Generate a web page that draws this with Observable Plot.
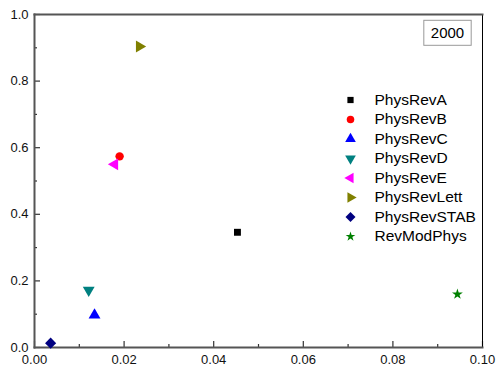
<!DOCTYPE html>
<html>
<head>
<meta charset="utf-8">
<script src="https://cdn.jsdelivr.net/npm/d3@7"></script>
<script src="https://cdn.jsdelivr.net/npm/@observablehq/plot@0.6"></script>
<style>
  html, body { margin: 0; padding: 0; background: #fff; }
  #chart { width: 496px; height: 367px; }
  svg { font-family: Arial, "Liberation Sans", sans-serif; }
</style>
</head>
<body>
<div id="chart"></div>
<script>
const categories = ["PhysRevA", "PhysRevB", "PhysRevC", "PhysRevD", "PhysRevE", "PhysRevLett", "PhysRevSTAB", "RevModPhys"];
const xValues = [0.0453, 0.0190, 0.0134, 0.0121, 0.0179, 0.0234, 0.0036, 0.0944];
const yValues = [0.346, 0.574, 0.097, 0.172, 0.550, 0.904, 0.013, 0.160];
const colors = ["#000000", "#ff0000", "#0000ff", "#008080", "#ff00ff", "#808000", "#000080", "#008000"];
const shapes = ["square", "circle", "triangle", "triangleDown", "triangleLeft", "triangleRight", "diamond", "star"];
const xTicks = [0, 0.02, 0.04, 0.06, 0.08, 0.10];
const xMinorTicks = [0.01, 0.03, 0.05, 0.07, 0.09];
const yTicks = [0, 0.2, 0.4, 0.6, 0.8, 1.0];
const yMinorTicks = [0.1, 0.3, 0.5, 0.7, 0.9];
const yearLabel = "2000";

function rotTriangle(angleDeg) {
  const a = angleDeg * Math.PI / 180, c = Math.cos(a), s = Math.sin(a);
  return {
    draw(ctx, size) {
      const y = -Math.sqrt(size / (Math.sqrt(3) * 3));
      const pts = [[0, y * 2], [-Math.sqrt(3) * y, -y], [Math.sqrt(3) * y, -y]];
      pts.forEach(([px, py], i) => {
        const rx = px * c - py * s, ry = px * s + py * c;
        if (i === 0) ctx.moveTo(rx, ry); else ctx.lineTo(rx, ry);
      });
      ctx.closePath();
    }
  };
}
const symbolMap = {
  square: {sym: "square", r: 3.9},
  circle: {sym: "circle", r: 4.2},
  triangle: {sym: "triangle", r: 4.4},
  triangleDown: {sym: rotTriangle(180), r: 4.4},
  triangleLeft: {sym: rotTriangle(-90), r: 4.4},
  triangleRight: {sym: rotTriangle(90), r: 4.4},
  diamond: {sym: "diamond2", r: 5.0},
  star: {sym: "star", r: 3.4}
};

const W = 496, H = 367;
const mL = 34, mR = 14, mT = 14, mB = 20;
const plotW = W - mL - mR, plotH = H - mT - mB;

const marks = [];
// inward ticks
marks.push(Plot.tickX(xTicks, {x: d => d, insetTop: plotH - 6, stroke: "#333", strokeWidth: 1.2}));
marks.push(Plot.tickX(xMinorTicks, {x: d => d, insetTop: plotH - 3, stroke: "#333", strokeWidth: 1.2}));
marks.push(Plot.tickY(yTicks, {y: d => d, insetRight: plotW - 6, stroke: "#333", strokeWidth: 1.2}));
marks.push(Plot.tickY(yMinorTicks, {y: d => d, insetRight: plotW - 3, stroke: "#333", strokeWidth: 1.2}));
// frame
marks.push(Plot.frame({anchor: "right", stroke: "#000", strokeWidth: 1}));
marks.push(Plot.frame({anchor: "left", stroke: "#555", strokeWidth: 2}));
marks.push(Plot.frame({anchor: "bottom", stroke: "#555", strokeWidth: 2}));
marks.push(Plot.frame({anchor: "top", stroke: "#555", strokeWidth: 2}));
// axes labels
marks.push(Plot.axisX(xTicks, {tickSize: 0, tickPadding: 7, tickFormat: d3.format(".2f"), fontSize: 13, fill: "#111", label: null}));
marks.push(Plot.axisY(yTicks, {tickSize: 0, tickPadding: 6, tickFormat: d3.format(".1f"), fontSize: 13, fill: "#111", label: null}));

categories.forEach((cat, i) => {
  const {sym, r} = symbolMap[shapes[i]];
  marks.push(Plot.dot([{x: xValues[i], y: yValues[i]}], {x: "x", y: "y", symbol: sym, r, fill: colors[i], stroke: "none"}));
  // legend entry
  marks.push(Plot.dot([cat], {frameAnchor: "top-left", dx: 316, dy: 85.5 + i * 19.5, symbol: sym, r: r * 0.9, fill: colors[i], stroke: "none"}));
  marks.push(Plot.text([cat], {text: d => d, frameAnchor: "top-left", dx: 340, dy: 85.5 + i * 19.5, textAnchor: "start", lineAnchor: "middle", fontSize: 15.5, fill: "#000"}));
});
marks.push(Plot.text([yearLabel], {text: d => d, frameAnchor: "top-right", dx: -35, dy: 19, textAnchor: "middle", lineAnchor: "middle", fontSize: 15, fill: "#000", className: "yearlabel"}));

const chart = Plot.plot({
  width: W, height: H,
  marginLeft: mL, marginRight: mR, marginTop: mT, marginBottom: mB,
  x: {domain: [0, 0.10], axis: null},
  y: {domain: [0, 1.0], axis: null},
  style: {fontFamily: "Arial, 'Liberation Sans', sans-serif", background: "#fff"},
  marks
});
document.getElementById("chart").appendChild(chart);

// box around the year label
const t = d3.select(chart).select(".yearlabel text");
if (!t.empty()) {
  const bb = t.node().getBBox();
  const tr = t.attr("transform");
  d3.select(t.node().parentNode).insert("rect", "text")
    .attr("x", bb.x - 7).attr("y", bb.y - 4)
    .attr("width", bb.width + 14).attr("height", bb.height + 8)
    .attr("transform", tr)
    .attr("fill", "#fff").attr("stroke", "#999").attr("stroke-width", 1);
}
</script>
</body>
</html>
